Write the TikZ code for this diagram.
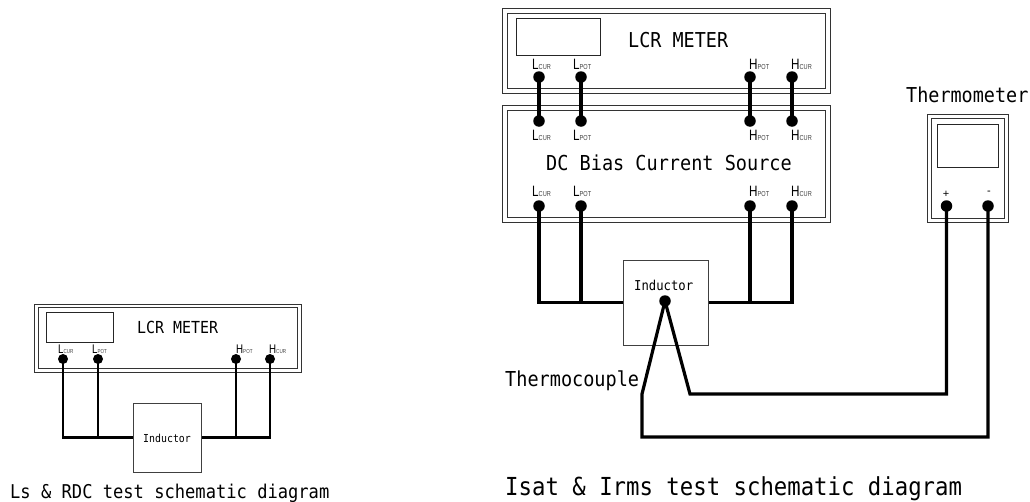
\documentclass[tikz,border=0pt]{standalone}
\usepackage{fontspec}
\setmainfont{Liberation Sans}
\newfontfamily\monof[FakeStretch=0.9]{DejaVu Sans Mono}
\newfontfamily\portf[FakeStretch=0.78]{Liberation Sans}
\newcommand{\mtxt}[1]{\fontsize{#1}{#1}\selectfont\monof}
\newcommand{\bigport}[2]{{\portf\fontsize{15}{15}\selectfont #1}{\portf\fontsize{7.2}{7.2}\selectfont\color{black!75}#2}}
\newcommand{\smallport}[2]{{\portf\fontsize{12.5}{12.5}\selectfont #1}{\portf\fontsize{5.8}{5.8}\selectfont\color{black!75}#2}}
\tikzset{
  hull/.style={draw=black!80,line width=1pt,rectangle,inner sep=0pt,fill=none},
  screen/.style={draw=black!85,line width=0.9pt,rectangle,inner sep=0pt},
  partbox/.style={draw=black!75,fill=white,line width=1pt,rectangle,inner sep=0pt},
  label/.style={inner sep=0pt,anchor=base west},
  dotbig/.style={circle,fill=black,inner sep=0pt,minimum size=11.5pt},
  dotsmall/.style={circle,fill=black,inner sep=0pt,minimum size=10pt},
  wire/.style={line width=3.2pt,black,line cap=butt,line join=miter},
  wirethin/.style={line width=2.8pt,black,line cap=butt,line join=miter},
}
\begin{document}
\begin{tikzpicture}[x=1pt,y=-1pt]
\useasboundingbox (0,0) rectangle (1030,501);
\fill[white] (0,0) rectangle (1030,501);

% left LCR meter
\node[hull,minimum width=267pt,minimum height=68pt] (lo) at (167.5,338) {};
\node[hull,minimum width=259pt,minimum height=61pt] (li) at (167.5,337.5) {};
\node[screen,minimum width=67pt,minimum height=30pt] (ld) at (79.5,327) {};
\node[label] (lt) at (137,333) {\mtxt{16.6}LCR METER};
\node[label] (la) at (58,353) {\smallport{L}{CUR}};
\node[label] (lb) at (92,353) {\smallport{L}{POT}};
\node[label] (lc) at (236,353) {\smallport{H}{POT}};
\node[label] (ld2) at (269,353) {\smallport{H}{CUR}};
\node[dotsmall] (l1) at (63,359) {};
\node[dotsmall] (l2) at (98,359) {};
\node[dotsmall] (l3) at (236,359) {};
\node[dotsmall] (l4) at (270,359) {};
\node[partbox,minimum width=68pt,minimum height=69pt] (lind) at (167,437.5) {};
\node[label] (lindt) at (143,442) {\mtxt{11}Inductor};
\coordinate (lj1) at (63,437.5);
\coordinate (lj2) at (98,437.5);
\coordinate (lj3) at (236,437.5);
\coordinate (lj4) at (270,437.5);
\draw[wirethin] (l1.center) -- (lj1) -- (lind.west);
\draw[wirethin] (l2.center) -- (lj2);
\draw[wirethin] (l3.center) -- (lj3);
\draw[wirethin] (l4.center) -- (lj4) -- (lind.east);
\node[label] (lcap) at (10,498) {\mtxt{19}Ls \& RDC test schematic diagram};

% right LCR meter
\node[hull,minimum width=328pt,minimum height=85pt] (ro) at (666,50.5) {};
\node[hull,minimum width=318pt,minimum height=75pt] (ri) at (666,50.5) {};
\node[screen,minimum width=84pt,minimum height=37pt] (rd) at (558,36.5) {};
\node[label] (rt) at (628,47) {\mtxt{20.5}LCR METER};
\node[label] (ra) at (532,69) {\bigport{L}{CUR}};
\node[label] (rb) at (573,69) {\bigport{L}{POT}};
\node[label] (rc) at (749,69) {\bigport{H}{POT}};
\node[label] (re) at (791,69) {\bigport{H}{CUR}};
\node[dotbig] (r1) at (539,77) {};
\node[dotbig] (r2) at (581,77) {};
\node[dotbig] (r3) at (750,77) {};
\node[dotbig] (r4) at (792,77) {};

% DC bias source
\node[hull,minimum width=328pt,minimum height=117pt] (dco) at (666,163.5) {};
\node[hull,minimum width=318pt,minimum height=107pt] (dci) at (666,163.5) {};
\node[label] (dct) at (546,170) {\mtxt{20.6}DC Bias Current Source};
\node[dotbig] (d1) at (539,121) {};
\node[dotbig] (d2) at (581,121) {};
\node[dotbig] (d3) at (750,121) {};
\node[dotbig] (d4) at (792,121) {};
\node[label] (da) at (532,140) {\bigport{L}{CUR}};
\node[label] (db) at (573,140) {\bigport{L}{POT}};
\node[label] (dc) at (749,140) {\bigport{H}{POT}};
\node[label] (de) at (791,140) {\bigport{H}{CUR}};
\node[label] (fa) at (532,196) {\bigport{L}{CUR}};
\node[label] (fb) at (573,196) {\bigport{L}{POT}};
\node[label] (fc) at (749,196) {\bigport{H}{POT}};
\node[label] (fe) at (791,196) {\bigport{H}{CUR}};
\node[dotbig] (f1) at (539,206) {};
\node[dotbig] (f2) at (581,206) {};
\node[dotbig] (f3) at (750,206) {};
\node[dotbig] (f4) at (792,206) {};
\draw[wire] (r1.center) -- (d1.center);
\draw[wire] (r2.center) -- (d2.center);
\draw[wire] (r3.center) -- (d3.center);
\draw[wire] (r4.center) -- (d4.center);

% thermometer
\node[label] (tht) at (906,102) {\mtxt{20.5}Thermometer};
\node[hull,minimum width=81pt,minimum height=108pt] (to) at (967.5,168) {};
\node[hull,minimum width=73pt,minimum height=100pt] (ti) at (967.5,168) {};
\node[screen,minimum width=61pt,minimum height=43pt] (td) at (967.5,145.5) {};
\node[inner sep=0pt,font=\fontsize{11}{11}\selectfont] (tp) at (946,194) {+};
\node[inner sep=0pt,font=\fontsize{11}{11}\selectfont] (tm) at (989,193) {-};
\node[dotbig] (t1) at (946.5,206) {};
\node[dotbig] (t2) at (988,206) {};

% inductor
\node[partbox,minimum width=85pt,minimum height=85pt] (rind) at (665.5,302.5) {};
\node[label] (rindt) at (634,290) {\mtxt{13.6}Inductor};
\node[dotbig] (tc) at (665,301) {};
\coordinate (j1) at (539,302.5);
\coordinate (j2) at (581,302.5);
\coordinate (j3) at (750,302.5);
\coordinate (j4) at (792,302.5);
\draw[wire] (f1.center) -- (j1) -- (rind.west);
\draw[wire] (f2.center) -- (j2);
\draw[wire] (f3.center) -- (j3);
\draw[wire] (f4.center) -- (j4) -- (rind.east);
\coordinate (b1) at (690,394);
\coordinate (b2) at (946.5,394);
\coordinate (c1) at (642,394);
\coordinate (c2) at (642,437);
\coordinate (c3) at (988,437);
\draw[wire] (tc.center) -- (b1) -- (b2) -- (t1.center);
\draw[wire] (tc.center) -- (c1) -- (c2) -- (c3) -- (t2.center);
\node[label] (tcl) at (505,386) {\mtxt{20.6}Thermocouple};
\node[label] (rcap) at (505,495) {\mtxt{24.8}Isat \& Irms test schematic diagram};
\end{tikzpicture}
\end{document}
